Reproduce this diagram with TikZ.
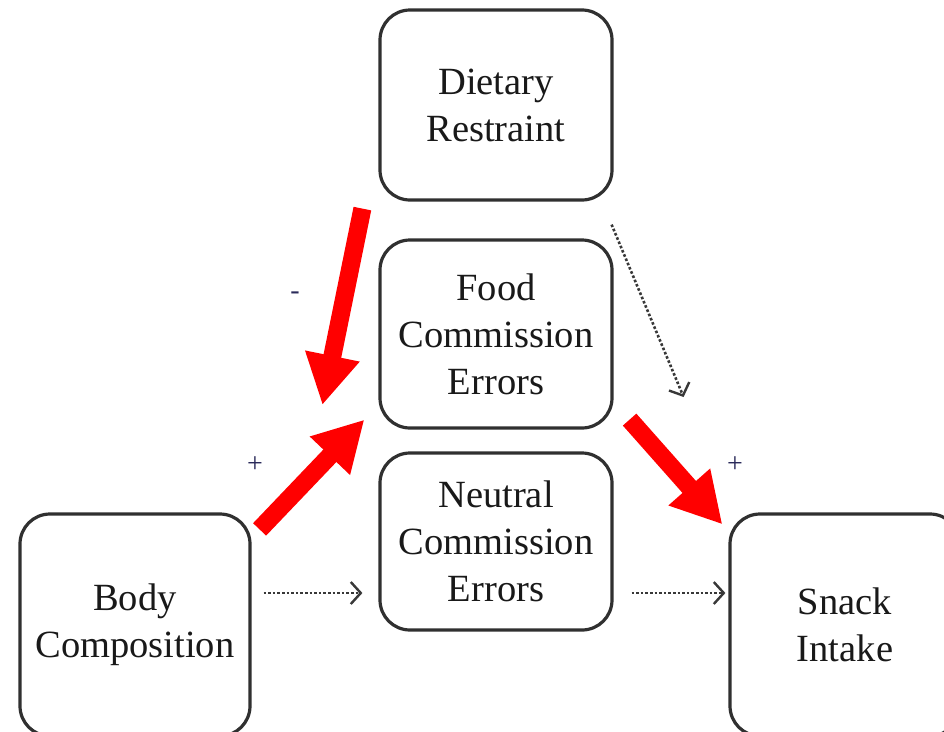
\documentclass[tikz,border=0pt]{standalone}
\usepackage{fontspec}
\setmainfont{Liberation Serif}
\usetikzlibrary{arrows.meta}
\definecolor{boxline}{HTML}{303030}
\definecolor{dotline}{HTML}{383838}
\definecolor{redarrow}{HTML}{FF0000}
\definecolor{signcol}{HTML}{2A2A5A}
\begin{document}
\begin{tikzpicture}[x=1pt,y=-1pt,
  box/.style={draw=boxline, line width=3.2pt, rounded corners=30pt,
    minimum width=232pt, minimum height=190pt, align=center, inner sep=0pt,
    text=black!90, font=\fontsize{38.5}{47}\selectfont},
  redarr/.style={draw=redarrow, line width=18pt,
    -{Triangle[length=50pt,width=52pt]}},
  dotarr/.style={draw=dotline, line width=2.6pt, dash pattern=on 2.6pt off 2pt,
    -{Straight Barb[length=10pt,width=22pt,line width=2.4pt]}},
  sign/.style={text=signcol, font=\fontsize{28}{32}\selectfont, inner sep=0pt}]
\clip (0,0) rectangle (944,731);
\fill[white] (0,0) rectangle (944,731);

\node[box] (diet) at (496,105) {Dietary\\Restraint};
\node[box, minimum height=188pt] (food) at (496,334) {Food\\Commission\\Errors};
\node[box, minimum height=177pt] (neut) at (496,541.5) {Neutral\\Commission\\Errors};
\node[box, minimum width=230pt, minimum height=222pt] (body) at (135,625) {Body\\Composition};
\node[box, minimum width=230pt, minimum height=222pt] (snack) at (845,625) {Snack\\Intake};

% red arrows
\draw[redarr] ([xshift=-16pt,yshift=-7pt]diet.south west) -- ([xshift=-56pt,yshift=-71pt]food.west);
\draw[redarr] ([xshift=8pt,yshift=-17pt]body.north east) -- ([xshift=-14pt,yshift=10pt]food.south west);
\draw[redarr] ([xshift=16pt,yshift=10pt]food.south east) -- ([xshift=-6pt,yshift=-12pt]snack.north west);

% dotted arrows
\draw[dotarr] ([xshift=-2pt,yshift=-23pt]diet.south east) -- ([xshift=70pt,yshift=-63pt]food.east);
\draw[dotarr] ([xshift=12pt,yshift=32pt]body.east) -- ([xshift=-16pt,yshift=-51.5pt]neut.west);
\draw[dotarr] ([xshift=18pt,yshift=-51.5pt]neut.east) -- ([xshift=-3pt,yshift=32pt]snack.west);

% signs
\node[sign] (minus) at (295,296) {-};
\node[sign] (plus1) at (255,465) {+};
\node[sign] (plus2) at (735,465) {+};
\end{tikzpicture}
\end{document}
